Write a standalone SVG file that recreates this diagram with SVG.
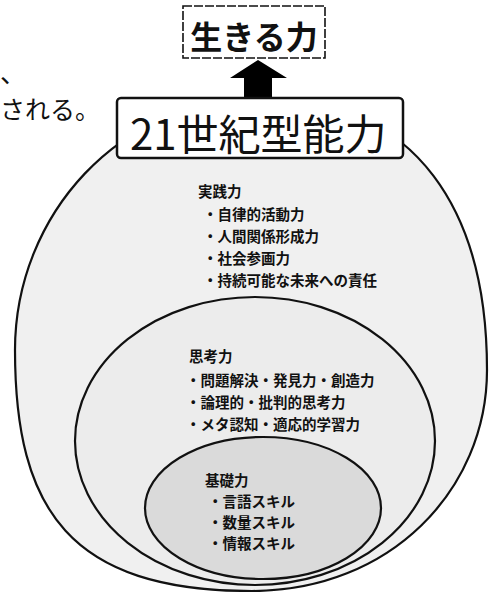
<svg xmlns="http://www.w3.org/2000/svg" width="490" height="592" viewBox="0 0 490 592">
<style>
.ring{stroke:#111;stroke-width:2.2;}
.body{font-family:"Noto Sans CJK JP","Noto Sans",sans-serif;font-weight:700;font-size:14.5px;fill:#111;}
.cap{font-family:"Noto Sans CJK JP","Noto Sans",sans-serif;fill:#111;}
.box{fill:#fff;stroke:#111;}
</style>
<rect width="490" height="592" fill="#fff"/>
<g id="fragment-text">
<text class="cap" x="0" y="83" font-size="26">、</text>
<text class="cap" x="0" y="119" font-size="25">される。</text>
</g>
<g id="outer">
<path class="ring" fill="#f0f0f0" d="M260,98 C120,98 15,215 15,350 C15,510 70,591 252,591 C390,591 487,490 487,370 C487,215 420,98 260,98 Z"/>
<text class="body" x="198" y="197">実践力</text>
<text class="body" x="203" y="220">・自律的活動力</text>
<text class="body" x="203" y="242">・人間関係形成力</text>
<text class="body" x="203" y="264">・社会参画力</text>
<text class="body" x="203" y="286">・持続可能な未来への責任</text>
</g>
<g id="middle">
<ellipse class="ring" fill="#ececec" cx="255" cy="441" rx="180" ry="144"/>
<text class="body" x="189" y="362">思考力</text>
<text class="body" x="186" y="386">・問題解決・発見力・創造力</text>
<text class="body" x="186" y="408">・論理的・批判的思考力</text>
<text class="body" x="186" y="430">・メタ認知・適応的学習力</text>
</g>
<g id="inner">
<ellipse class="ring" fill="#dadada" cx="263" cy="508" rx="118" ry="71"/>
<text class="body" x="205" y="486">基礎力</text>
<text class="body" x="208" y="507">・言語スキル</text>
<text class="body" x="208" y="528">・数量スキル</text>
<text class="body" x="208" y="549">・情報スキル</text>
</g>
<g id="connectors">
<polygon points="258,60 287,78 272,78 272,98 244,98 244,78 230,78" fill="#000"/>
</g>
<g id="node-21">
<rect class="box" x="117" y="98" width="286" height="60" rx="4" stroke-width="2.5"/>
<text class="cap" x="130" y="150" font-size="42">21世紀型能力</text>
</g>
<g id="node-ikiru">
<rect class="box" x="183" y="6" width="142" height="52" stroke-width="1.6" stroke-dasharray="9 2"/>
<text class="cap" x="254" y="49" font-size="32" font-weight="700" text-anchor="middle">生きる力</text>
</g>
</svg>
